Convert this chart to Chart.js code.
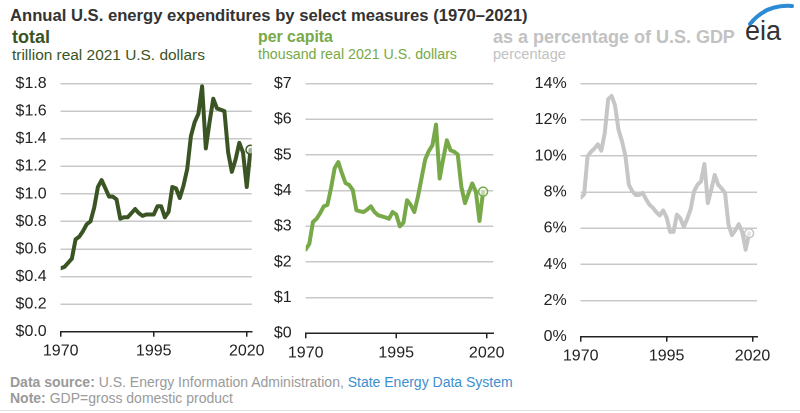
<!DOCTYPE html>
<html><head><meta charset="utf-8">
<script src="https://cdn.jsdelivr.net/npm/chart.js@4.4.1/dist/chart.umd.min.js"></script>
<style>
body{margin:0;width:800px;height:413px;background:#fff;position:relative;overflow:hidden;font-family:"Liberation Sans",Arial,Helvetica,sans-serif;}
.t{position:absolute;white-space:nowrap;line-height:1;}
.panel{position:absolute;}
</style></head><body>
<div class="t" id="title" data-w="518" data-c="17" style="left:10px;font-weight:bold;color:#333">Annual U.S. energy expenditures by select measures (1970–2021)</div>
<div class="t" id="h1" data-w="38" data-c="38" style="left:12px;font-weight:bold;color:#3b5424">total</div>
<div class="t" id="s1" data-w="193" data-c="55" style="left:12px;color:#3b5424">trillion real 2021 U.S. dollars</div>
<div class="t" id="h2" data-w="75" data-c="38" style="left:258px;font-weight:bold;color:#78a949">per capita</div>
<div class="t" id="s2" data-w="199" data-c="55" style="left:258px;color:#78a949">thousand real 2021 U.S. dollars</div>
<div class="t" id="h3" data-w="242" data-c="38" style="left:493px;font-weight:bold;color:#c2c2c2">as a percentage of U.S. GDP</div>
<div class="t" id="s3" data-w="73" data-c="55" style="left:493px;color:#c2c2c2">percentage</div>
<div class="t" id="f1" data-w="503" data-c="383" style="left:10px;color:#9a9a9a"><b>Data source:</b> U.S. Energy Information Administration, <span style="color:#3d8fce">State Energy Data System</span></div>
<div class="t" id="f2" data-w="223" data-c="399" style="left:10px;color:#9a9a9a"><b>Note:</b> GDP=gross domestic product</div>
<div style="position:absolute;left:0;top:410px;width:800px;height:1px;background:#e2e2e2"></div>
<svg style="position:absolute;left:736px;top:0px" width="64" height="46">
  <path d="M 14 24 Q 30 4 56 6" fill="none" stroke="#2d8ad4" stroke-width="4" stroke-linecap="round"/>
  <text x="9" y="40" font-family="Liberation Sans, Arial, sans-serif" font-size="27" fill="#333">eia</text>
</svg>
<div class="panel" style="left:0px;top:60px"><canvas id="c1" width="270" height="305"></canvas></div>
<div class="panel" style="left:260px;top:60px"><canvas id="c2" width="250" height="305"></canvas></div>
<div class="panel" style="left:520px;top:60px"><canvas id="c3" width="280" height="310"></canvas></div>
<script>
// ---- data ----
const totalYears = [1970,1971,1972,1973,1974,1975,1976,1977,1978,1979,1980,1981,1982,1983,1984,1985,1986,1987,1988,1989,1990,1991,1992,1993,1994,1995,1996,1997,1998,1999,2000,2001,2002,2003,2004,2005,2006,2007,2008,2009,2010,2011,2012,2013,2014,2015,2016,2017,2018,2019,2020,2021];
const totalValues = [0.46,0.47,0.50,0.53,0.67,0.69,0.73,0.78,0.80,0.90,1.05,1.10,1.04,0.98,0.98,0.96,0.82,0.83,0.83,0.86,0.89,0.86,0.84,0.85,0.85,0.85,0.91,0.91,0.83,0.87,1.05,1.04,0.97,1.06,1.18,1.42,1.52,1.58,1.78,1.33,1.52,1.69,1.62,1.61,1.60,1.30,1.16,1.25,1.37,1.30,1.05,1.32];
// per-capita and GDP-share lines as positioned on their own year axes in the picture
const sharedYears = [1970,1971,1972,1973,1974,1975,1976,1977,1978,1979,1980,1981,1982,1983,1984,1985,1986,1987,1988,1989,1990,1991,1992,1993,1994,1995,1996,1997,1998,1999,2000,2001,2002,2003,2004,2005,2006,2007,2008,2009,2010,2011,2012,2013,2014,2015,2016,2017,2018,2019];
const perCapitaValues = [2.35,2.51,3.12,3.21,3.37,3.56,3.60,4.07,4.63,4.80,4.49,4.21,4.16,4.02,3.45,3.42,3.40,3.47,3.56,3.40,3.31,3.28,3.25,3.21,3.40,3.33,3.00,3.10,3.73,3.60,3.40,3.83,4.35,4.87,5.11,5.27,5.85,4.34,4.90,5.41,5.13,5.09,5.01,4.10,3.65,3.93,4.20,3.97,3.15,3.97];
const gdpShareValues = [7.70,7.88,9.98,10.23,10.41,10.64,10.29,11.27,13.14,13.32,12.79,11.45,10.82,10.02,8.41,8.05,7.84,7.84,7.96,7.61,7.30,7.13,6.89,6.71,6.98,6.60,5.80,5.80,6.75,6.55,6.07,6.52,7.06,8.05,8.41,8.59,9.55,7.39,8.14,8.95,8.41,8.20,7.96,6.20,5.62,5.89,6.22,5.80,4.81,5.72];
const xTickValues = [1970,1995,2020];

// ---- text fitting ----
document.querySelectorAll('.t').forEach(el=>{
  let fs = 16; el.style.fontSize = fs+'px';
  const w = el.getBoundingClientRect().width;
  fs = fs * (+el.dataset.w) / w;
  el.style.fontSize = fs.toFixed(2)+'px';
  el.style.top = (+el.dataset.c - fs*0.55).toFixed(1)+'px';
});

const FONT = "'Liberation Sans', Arial, sans-serif";
function makePanel(id, xs, ys, color, cfg){
  const pr = ys.map((v,i)=> i===ys.length-1 ? 4.5 : 0);
  new Chart(document.getElementById(id), {
    type:'line',
    data:{datasets:[{
      data: xs.map((x,i)=>({x:x, y:ys[i]})),
      borderColor:color, borderWidth:4, tension:0,
      borderJoinStyle:'round', borderCapStyle:'round',
      pointRadius:pr, pointBackgroundColor:'rgba(255,255,255,0.55)',
      pointBorderColor:color, pointBorderWidth:1.5, pointHoverRadius:pr
    }]},
    options:{
      responsive:false, animation:false, devicePixelRatio:2,
      layout:{padding:cfg.pad},
      plugins:{legend:{display:false}, tooltip:{enabled:false}},
      scales:{
        x:{type:'linear', min:1970, max:cfg.xMax,
          afterBuildTicks:s=>{s.ticks = xTickValues.map(v=>({value:v}));},
          afterFit:s=>{s.height = 30;},
          grid:{drawOnChartArea:false, drawTicks:true, tickLength:5, color:'#222', lineWidth:1.5},
          border:{display:true, color:'#222', width:1.5},
          ticks:{font:{family:FONT,size:16}, color:'#222', padding:5, maxRotation:0, callback:v=>String(v)}
        },
        y:{min:0, max:cfg.yMax,
          afterFit:s=>{s.width = cfg.yW;},
          grid:{color:'#c8c8c8', lineWidth:1.5, drawTicks:false},
          border:{display:false},
          ticks:{stepSize:cfg.step, font:{family:FONT,size:16}, color:'#222', padding:14, callback:cfg.fmt}
        }
      }
    }
  });
}
makePanel('c1', totalYears, totalValues, '#3b5424',
  {xMax:2021.35, yMax:1.8, step:0.2, yW:60.7, fmt:v=>'$'+v.toFixed(1), pad:{top:20.7,right:17,bottom:3.3,left:0}});
makePanel('c2', sharedYears, perCapitaValues, '#78a949',
  {xMax:2021.8, yMax:7, step:1, yW:45.7, fmt:v=>'$'+v.toFixed(0), pad:{top:22,right:14,bottom:1.7,left:0}});
makePanel('c3', sharedYears, gdpShareValues, '#c6c6c6',
  {xMax:2021.3, yMax:14, step:2, yW:60.7, fmt:v=>v.toFixed(0)+'%', pad:{top:17.3,right:43,bottom:3.3,left:0}});
</script>
</body></html>
